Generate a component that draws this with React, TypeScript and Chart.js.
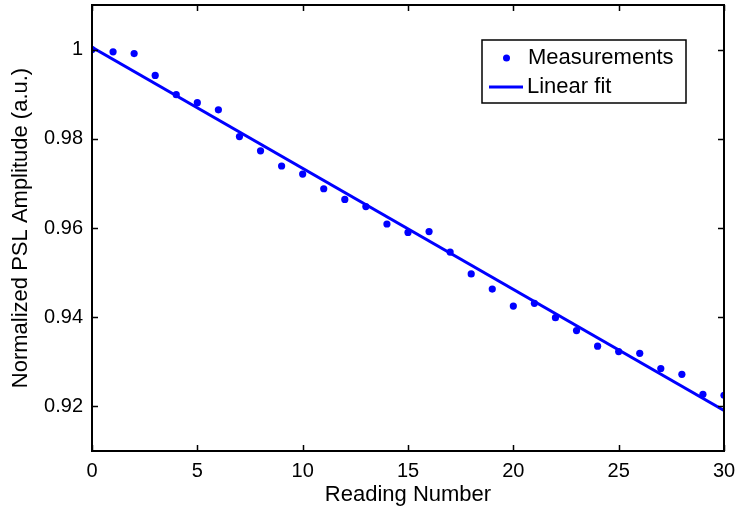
import React, { useEffect, useRef } from "react";
import { Chart, registerables } from "chart.js";

Chart.register(...registerables);

const readings = [0, 1, 2, 3, 4, 5, 6, 7, 8, 9, 10, 11, 12, 13, 14, 15, 16, 17, 18, 19, 20, 21, 22, 23, 24, 25, 26, 27, 28, 29, 30];
const measurements = [
  1.0, 0.9995, 0.9991, 0.9942, 0.9899, 0.9881, 0.9865, 0.9805, 0.9773, 0.9739, 0.9721,
  0.9688, 0.9664, 0.9648, 0.9609, 0.959, 0.9592, 0.9546, 0.9497, 0.9463, 0.9425,
  0.9431, 0.9399, 0.937, 0.9335, 0.9323, 0.9319, 0.9285, 0.9272, 0.9227, 0.9225,
];
const fitX = [0, 30];
const fitY = [1.0005, 0.9191];
const xTicks = [0, 5, 10, 15, 20, 25, 30];
const yTicks = [0.92, 0.94, 0.96, 0.98, 1.0];
const legendLabels = ["Measurements", "Linear fit"];
const xTitle = "Reading Number";
const yTitle = "Normalized PSL Amplitude (a.u.)";

const FONT = "'Liberation Sans', Arial, Helvetica, sans-serif";
const BLUE = "#0000ff";

const framePlugin = {
  id: "frame",
  afterDatasetsDraw(chart: any) {
    const { ctx, chartArea: a, scales } = chart;
    const xs = scales.x;
    const ys = scales.y;
    const tl = 6;
    ctx.save();
    ctx.strokeStyle = "#000";
    ctx.lineWidth = 1.5;
    ctx.beginPath();
    xTicks.forEach((v) => {
      const px = Math.round(xs.getPixelForValue(v)) + 0.5;
      ctx.moveTo(px, a.bottom);
      ctx.lineTo(px, a.bottom - tl);
      ctx.moveTo(px, a.top);
      ctx.lineTo(px, a.top + tl);
    });
    yTicks.forEach((v) => {
      const py = Math.round(ys.getPixelForValue(v)) + 0.5;
      ctx.moveTo(a.left, py);
      ctx.lineTo(a.left + tl, py);
      ctx.moveTo(a.right, py);
      ctx.lineTo(a.right - tl, py);
    });
    ctx.stroke();
    ctx.lineWidth = 2;
    ctx.strokeRect(a.left, a.top, a.right - a.left, a.bottom - a.top);

    // legend box
    const lx = a.right - 242;
    const ly = a.top + 35;
    const lw = 204;
    const lh = 63;
    ctx.fillStyle = "#fff";
    ctx.fillRect(lx, ly, lw, lh);
    ctx.lineWidth = 1.5;
    ctx.strokeStyle = "#000";
    ctx.strokeRect(lx, ly, lw, lh);

    ctx.fillStyle = BLUE;
    ctx.beginPath();
    ctx.arc(lx + 24.5, ly + 18, 3.5, 0, Math.PI * 2);
    ctx.fill();

    ctx.strokeStyle = BLUE;
    ctx.lineWidth = 3;
    ctx.beginPath();
    ctx.moveTo(lx + 7, ly + 47);
    ctx.lineTo(lx + 41, ly + 47);
    ctx.stroke();

    ctx.fillStyle = "#000";
    ctx.font = `22px ${FONT}`;
    ctx.textBaseline = "middle";
    ctx.textAlign = "left";
    ctx.fillText(legendLabels[0], lx + 46, ly + 18);
    ctx.fillText(legendLabels[1], lx + 45, ly + 47);
    ctx.restore();
  },
};

export default function App() {
  const ref = useRef<HTMLCanvasElement | null>(null);

  useEffect(() => {
    document.body.style.margin = "0";
    const canvas = ref.current;
    if (!canvas) return;
    const tickFont = { family: FONT, size: 20 };
    const chart = new Chart(canvas, {
      type: "scatter",
      data: {
        datasets: [
          {
            label: legendLabels[1],
            data: fitX.map((x, i) => ({ x, y: fitY[i] })),
            showLine: true,
            borderColor: BLUE,
            backgroundColor: BLUE,
            borderWidth: 3,
            pointRadius: 0,
            order: 0,
          },
          {
            label: legendLabels[0],
            data: readings.map((x, i) => ({ x, y: measurements[i] })),
            showLine: false,
            backgroundColor: BLUE,
            borderColor: BLUE,
            borderWidth: 0,
            pointRadius: 3.6,
            order: 1,
          },
        ],
      },
      options: {
        animation: false,
        responsive: false,
        maintainAspectRatio: false,
        layout: { padding: { left: 0, top: 5, right: 14, bottom: 0 } },
        plugins: { legend: { display: false }, tooltip: { enabled: false } },
        scales: {
          x: {
            type: "linear",
            min: 0,
            max: 30,
            grid: { display: false, drawTicks: false },
            border: { display: false },
            afterBuildTicks(s: any) {
              s.ticks = xTicks.map((v) => ({ value: v }));
            },
            ticks: {
              padding: 8,
              color: "#000",
              font: tickFont,
              maxRotation: 0,
              callback: (v: any) => String(v),
            },
            title: {
              display: true,
              text: xTitle,
              color: "#000",
              font: { family: FONT, size: 22 },
              padding: { top: 0, bottom: 0 },
            },
            afterFit(s: any) {
              s.height = 57;
              s.paddingLeft = 0;
              s.paddingRight = 0;
            },
          },
          y: {
            type: "linear",
            min: 0.91,
            max: 1.01,
            grid: { display: false, drawTicks: false },
            border: { display: false },
            afterBuildTicks(s: any) {
              s.ticks = yTicks.map((v) => ({ value: v }));
            },
            ticks: {
              padding: 9,
              color: "#000",
              font: tickFont,
              callback: (v: any) => String(Number(Number(v).toFixed(2))),
            },
            title: {
              display: true,
              text: yTitle,
              color: "#000",
              font: { family: FONT, size: 22 },
              padding: { top: 8, bottom: 0 },
            },
            afterFit(s: any) {
              s.width = 92;
              s.paddingTop = 0;
              s.paddingBottom = 0;
            },
          },
        },
      },
      plugins: [framePlugin],
    } as any);
    return () => chart.destroy();
  }, []);

  return (
    <div style={{ width: 738, height: 508 }}>
      <canvas ref={ref} width={738} height={508} style={{ display: "block" }} />
    </div>
  );
}
